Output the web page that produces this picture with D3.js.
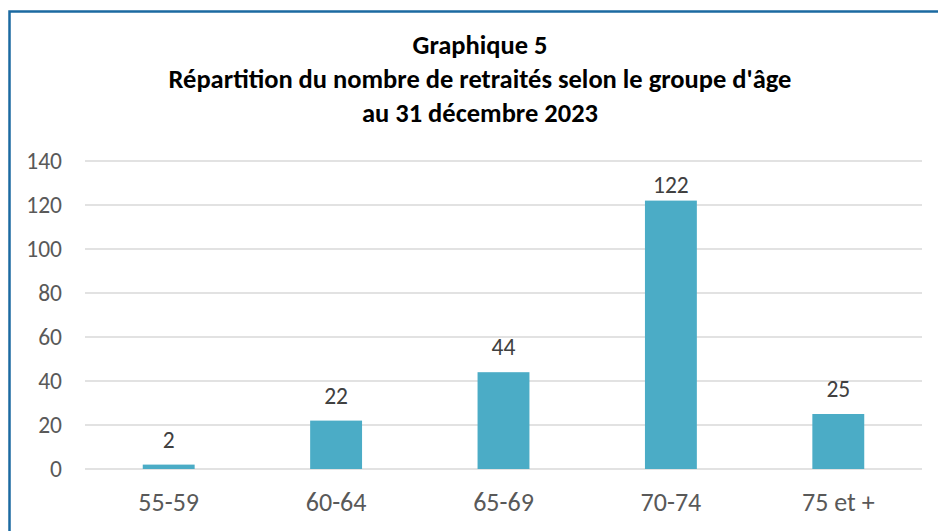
<!DOCTYPE html>
<html>
<head>
<meta charset="utf-8">
<script src="https://cdn.jsdelivr.net/npm/d3@7"></script>
<style>
  html, body { margin: 0; padding: 0; background: #fff; }
  svg { display: block; }
</style>
</head>
<body>
<div id="chart"></div>
<script>
// Chart data
const categories = ["55-59", "60-64", "65-69", "70-74", "75 et +"];
const values = [2, 22, 44, 122, 25];
const yTicks = [0, 20, 40, 60, 80, 100, 120, 140];
const titleLines = [
    "Graphique 5",
    "Répartition du nombre de retraités selon le groupe d'âge",
    "au 31 décembre 2023"
];

const width = 938, height = 531;
const margin = {top: 161, right: 16, bottom: 62, left: 85};

const svg = d3.select('#chart').append('svg')
    .attr('width', width)
    .attr('height', height);

// frame
svg.append('rect')
    .attr('x', 9.5).attr('y', 11.5)
    .attr('width', width + 20).attr('height', height + 20)
    .attr('fill', 'none')
    .attr('stroke', '#1b6aa1')
    .attr('stroke-width', 2.5);

const font = "Carlito, Calibri, 'Liberation Sans Narrow', sans-serif";

// Title
svg.append('g')
    .selectAll('text')
    .data(titleLines)
    .join('text')
    .attr('x', 480)
    .attr('y', (d, i) => 54 + i * 34)
    .attr('text-anchor', 'middle')
    .style('font-family', font)
    .style('font-weight', 'bold')
    .style('font-size', '26.5px')
    .style('fill', '#000')
    .text(d => d);

const x = d3.scaleBand()
    .domain(categories)
    .range([margin.left, width - margin.right])
    .paddingInner(0.69)
    .paddingOuter(0.345);

const y = d3.scaleLinear()
    .domain([0, 140])
    .range([height - margin.bottom, margin.top]);

// gridlines
svg.append('g')
    .selectAll('line')
    .data(yTicks)
    .join('line')
    .attr('x1', margin.left)
    .attr('x2', width - margin.right)
    .attr('y1', d => y(d))
    .attr('y2', d => y(d))
    .attr('stroke', '#d9d9d9')
    .attr('stroke-width', 1.5);

// y axis labels
const yAxis = svg.append('g')
    .attr('transform', `translate(${margin.left},0)`)
    .call(d3.axisLeft(y).tickValues(yTicks).tickSize(0).tickPadding(23));
yAxis.select('.domain').remove();
yAxis.selectAll('text')
    .style('font-family', font)
    .style('font-size', '23.5px')
    .style('fill', '#595959');

// x axis labels
const xAxis = svg.append('g')
    .attr('transform', `translate(0,${height - margin.bottom})`)
    .call(d3.axisBottom(x).tickSize(0).tickPadding(24));
xAxis.select('.domain').remove();
xAxis.selectAll('text')
    .style('font-family', font)
    .style('font-size', '26px')
    .style('fill', '#595959');

// bars
svg.append('g')
    .selectAll('rect')
    .data(values)
    .join('rect')
    .attr('x', (d, i) => x(categories[i]))
    .attr('y', d => y(d))
    .attr('width', x.bandwidth())
    .attr('height', d => y(0) - y(d))
    .attr('fill', '#4bacc6');

// value labels (kept inside the plot area)
svg.append('g')
    .selectAll('text')
    .data(values)
    .join('text')
    .attr('x', (d, i) => x(categories[i]) + x.bandwidth() / 2)
    .attr('y', d => Math.max(y(d) - 17, margin.top + 32))
    .attr('text-anchor', 'middle')
    .style('font-family', font)
    .style('font-size', '23.5px')
    .style('fill', '#404040')
    .text(d => d);
</script>
</body>
</html>
